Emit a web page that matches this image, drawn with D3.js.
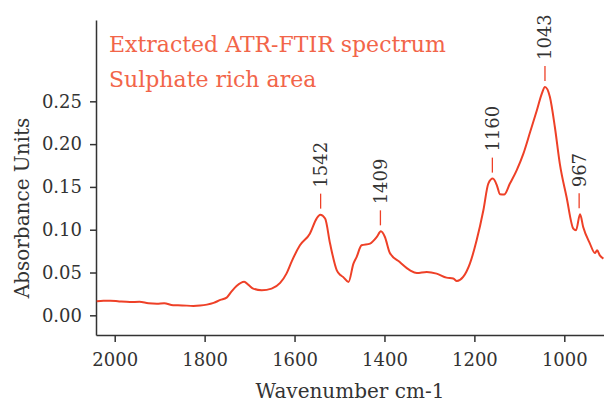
<!DOCTYPE html>
<html>
<head>
<meta charset="utf-8">
<script src="https://cdn.jsdelivr.net/npm/d3@7"></script>
<style>
  body { margin: 0; background: #fff; }
  svg text { font-family: "DejaVu Serif", serif; }
  .axis path, .axis line { stroke: #333; stroke-width: 1.5; }
  .axis text { fill: #333; font-size: 18px; }
  .axis-title { fill: #333; font-size: 20px; }
  .legend-text { fill: #f26549; font-size: 22px; }
  .peak-label { fill: #333; font-size: 18px; }
</style>
</head>
<body>
<svg id="chart"></svg>
<script>
// spectrum
const wavenumber = [2040, 2025, 2010, 1990, 1966, 1945, 1925, 1906, 1890, 1870, 1850, 1825, 1810, 1795, 1780,
  1765, 1751, 1740, 1729, 1712, 1703, 1692, 1673, 1651, 1632, 1618, 1606, 1588, 1566, 1551, 1543, 1532, 1521,
  1506, 1498, 1492, 1480, 1469, 1462, 1451, 1432, 1417, 1408, 1399, 1388, 1366, 1343, 1328, 1306, 1284, 1262,
  1247, 1239, 1225, 1210, 1195, 1180, 1169, 1159, 1150, 1143, 1134, 1121, 1106, 1091, 1076, 1061, 1050, 1043,
  1032, 1021, 1010, 995, 980, 974, 965, 958, 943, 932, 927, 921, 913];
const absorbance = [0.0164, 0.0170, 0.0171, 0.0162, 0.0155, 0.0158, 0.0140, 0.0135, 0.0142, 0.0118, 0.0116, 0.0110, 0.0114, 0.0125, 0.0145,
  0.0180, 0.0207, 0.0280, 0.0343, 0.0393, 0.0358, 0.0312, 0.0292, 0.0312, 0.0378, 0.0487, 0.0634, 0.0818, 0.0954, 0.1130, 0.1176, 0.1130, 0.0838,
  0.0526, 0.0470, 0.0448, 0.0389, 0.0604, 0.0680, 0.0818, 0.0838, 0.0915, 0.0981, 0.0915, 0.0728, 0.0623, 0.0526, 0.0494, 0.0506, 0.0487, 0.0440,
  0.0430, 0.0401, 0.0448, 0.0604, 0.0876, 0.1227, 0.1539, 0.1597, 0.1519, 0.1414, 0.1410, 0.1539, 0.1694, 0.1889, 0.2141, 0.2395, 0.2590, 0.2667,
  0.2550, 0.2200, 0.1772, 0.1382, 0.1013, 0.0993, 0.1180, 0.1032, 0.0838, 0.0728, 0.0759, 0.0700, 0.0662];

const peakLabels = [1542, 1409, 1160, 1043, 967];
const legendLines = ['Extracted ATR-FTIR spectrum', 'Sulphate rich area'];
const yTicks = [0, 0.05, 0.10, 0.15, 0.20, 0.25];
const xTicks = [2000, 1800, 1600, 1400, 1200, 1000];

const width = 604, height = 405;
const margin = {top: 20, right: 0, bottom: 70, left: 96};
const lineColor = '#ee4027';

const svg = d3.select('#chart').attr('width', width).attr('height', height);

const x = d3.scaleLinear().domain([2041.6, 911.7]).range([margin.left, width - margin.right]);
const y = d3.scaleLinear().domain([-0.023, 0.345]).range([height - margin.bottom, margin.top]);

const data = wavenumber.map((w, i) => ({w: w, a: absorbance[i]}));

// axes
svg.append('g')
    .attr('class', 'axis')
    .attr('transform', `translate(0,${height - margin.bottom})`)
    .call(d3.axisBottom(x).tickValues(xTicks).tickFormat(d3.format('d')).tickSize(7).tickSizeOuter(0).tickPadding(11));

svg.append('g')
    .attr('class', 'axis')
    .attr('transform', `translate(${margin.left},0)`)
    .call(d3.axisLeft(y).tickValues(yTicks).tickFormat(d3.format('.2f')).tickSize(6).tickSizeOuter(0).tickPadding(8));

// spectrum
svg.append('path')
    .datum(data)
    .attr('fill', 'none')
    .attr('stroke', lineColor)
    .attr('stroke-width', 2)
    .attr('stroke-linejoin', 'round')
    .attr('d', d3.line().x(d => x(d.w)).y(d => y(d.a)).curve(d3.curveMonotoneX));

// peak labels
peakLabels.forEach(p => {
  const near = data.filter(d => Math.abs(d.w - p) <= 4);
  const top = d3.max(near, d => d.a);
  const px = x(p), py = y(top);
  svg.append('line')
      .attr('x1', px).attr('x2', px)
      .attr('y1', py - 6).attr('y2', py - 21)
      .attr('stroke', lineColor)
      .attr('stroke-width', 1.3);
  svg.append('text')
      .attr('class', 'peak-label')
      .attr('transform', `translate(${px},${py - 27}) rotate(-90)`)
      .attr('dy', '0.36em')
      .attr('text-anchor', 'start')
      .text(p);
});

// legend
legendLines.forEach((t, i) => {
  svg.append('text')
      .attr('class', 'legend-text')
      .attr('x', 109)
      .attr('y', 52 + i * 35)
      .text(t);
});

// axis titles
svg.append('text')
    .attr('class', 'axis-title')
    .attr('x', (margin.left + width - margin.right) / 2)
    .attr('y', 398)
    .attr('text-anchor', 'middle')
    .text('Wavenumber cm-1');

svg.append('text')
    .attr('class', 'axis-title')
    .attr('transform', 'translate(29,208) rotate(-90)')
    .attr('text-anchor', 'middle')
    .text('Absorbance Units');
</script>
</body>
</html>
